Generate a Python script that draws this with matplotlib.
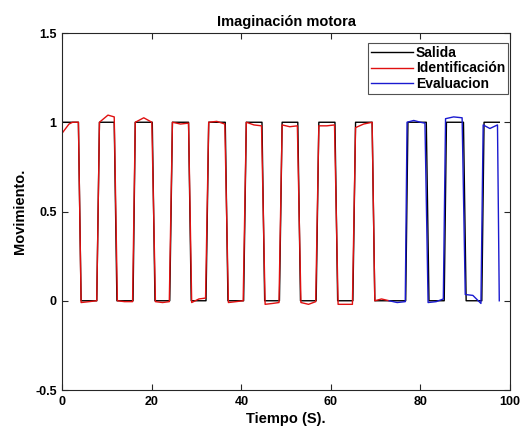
import matplotlib
matplotlib.use("Agg")
import matplotlib.pyplot as plt
from matplotlib.ticker import FuncFormatter

plt.rcParams["font.family"] = ["Liberation Sans", "DejaVu Sans"]
plt.rcParams["font.weight"] = "bold"
plt.rcParams["axes.unicode_minus"] = False

# Reference output (square wave of the motor task)
salida_t = [0, 3.6, 4.2, 7.7, 8.3, 11.6, 12.2, 15.8, 16.3, 20.1, 20.7, 24.0, 24.6,
            28.2, 28.8, 32.1, 32.7, 36.4, 37.0, 40.5, 41.1, 44.6, 45.2, 48.5, 49.1,
            52.6, 53.2, 56.7, 57.3, 60.9, 61.5, 64.9, 65.5, 69.2, 69.8, 76.7, 77.2,
            81.3, 81.9, 85.3, 85.8, 89.6, 90.2, 93.7, 94.2, 97.6]
salida_y = [1, 1, 0, 0, 1, 1, 0, 0, 1, 1, 0, 0, 1,
            1, 0, 0, 1, 1, 0, 0, 1, 1, 0, 0, 1,
            1, 0, 0, 1, 1, 0, 0, 1, 1, 0, 0, 1,
            1, 0, 0, 1, 1, 0, 0, 1, 1]

# Model output on the identification segment
ident_t = [0, 1.5, 2.3, 3.6, 4.2, 6.0, 7.7,
           8.3, 10.2, 11.6, 12.3, 13.9, 15.7,
           16.3, 18.2, 20.0, 20.8, 22.4, 23.9,
           24.6, 26.4, 28.2, 28.9, 30.5, 32.0,
           32.7, 34.5, 36.3, 37.1, 38.8, 40.4,
           41.1, 42.8, 44.5, 45.3, 47.0, 48.4,
           49.1, 50.8, 52.5, 53.3, 55.0, 56.6,
           57.3, 59.1, 60.8, 61.6, 63.2, 64.8,
           65.5, 67.3, 69.2, 69.8, 71.3, 73.0]
ident_y = [0.94, 0.99, 1.0, 1.0, -0.01, -0.005, 0.0,
           1.0, 1.04, 1.03, 0.0, -0.005, -0.005,
           1.0, 1.025, 1.0, -0.005, -0.01, -0.005,
           1.0, 0.99, 0.995, -0.01, 0.01, 0.015,
           1.0, 1.005, 0.99, -0.01, -0.005, 0.0,
           1.0, 0.985, 0.98, -0.02, -0.015, -0.01,
           0.985, 0.975, 0.98, -0.01, -0.02, -0.005,
           0.98, 0.98, 0.985, -0.02, -0.02, -0.02,
           0.97, 0.99, 1.0, 0.0, 0.01, 0.0]

# Model output on the validation segment
eval_t = [73.0, 74.8, 76.6, 77.0, 78.5, 80.0, 81.0, 81.7, 83.5, 85.1,
          85.6, 87.4, 89.3, 90.0, 91.7, 93.5, 94.0, 95.5, 97.2, 97.6]
eval_y = [0.0, -0.01, -0.005, 1.0, 1.01, 1.0, 0.995, -0.01, -0.005, 0.01,
          1.02, 1.03, 1.025, 0.035, 0.03, -0.015, 0.985, 0.965, 0.985, 0.0]

x_ticks = [0, 20, 40, 60, 80, 100]
y_ticks = [-0.5, 0, 0.5, 1, 1.5]

fig = plt.figure(figsize=(5.31, 4.36), dpi=100)
ax = fig.add_axes([0.1173, 0.1055, 0.8432, 0.8188])

ax.plot(salida_t, salida_y, color="black", lw=1.0, label="Salida")
ax.plot(ident_t, ident_y, color="#e01010", lw=1.0, label="Identificación")
ax.plot(eval_t, eval_y, color="#1a1ad0", lw=1.0, label="Evaluacion")

ax.set_xlim(0, 100)
ax.set_ylim(-0.5, 1.5)
ax.set_xticks(x_ticks)
ax.set_yticks(y_ticks)
ax.yaxis.set_major_formatter(FuncFormatter(lambda v, p: f"{v:g}"))
ax.tick_params(direction="in", top=True, right=True, length=4, width=0.8,
               labelsize=9, color="#262626", pad=4)
for lab in ax.get_xticklabels() + ax.get_yticklabels():
    lab.set_fontweight("bold")
for sp in ax.spines.values():
    sp.set_linewidth(0.8)
    sp.set_color("#262626")

ax.set_title("Imaginación motora", fontsize=10.5, fontweight="bold", pad=5)
ax.set_xlabel("Tiempo (S).", fontsize=10.5, fontweight="bold", labelpad=3)
ax.set_ylabel("Movimiento.", fontsize=10.5, fontweight="bold", labelpad=6)

leg = ax.legend(loc="upper right", bbox_to_anchor=(0.9955, 0.972),
                fontsize=10, frameon=True, fancybox=False,
                edgecolor="#262626", borderpad=0.2, handlelength=3.0,
                handletextpad=0.25, labelspacing=0.12, borderaxespad=0.0)
leg.get_frame().set_linewidth(0.8)
for txt in leg.get_texts():
    txt.set_fontweight("bold")

fig.savefig("out.png", dpi=100)
